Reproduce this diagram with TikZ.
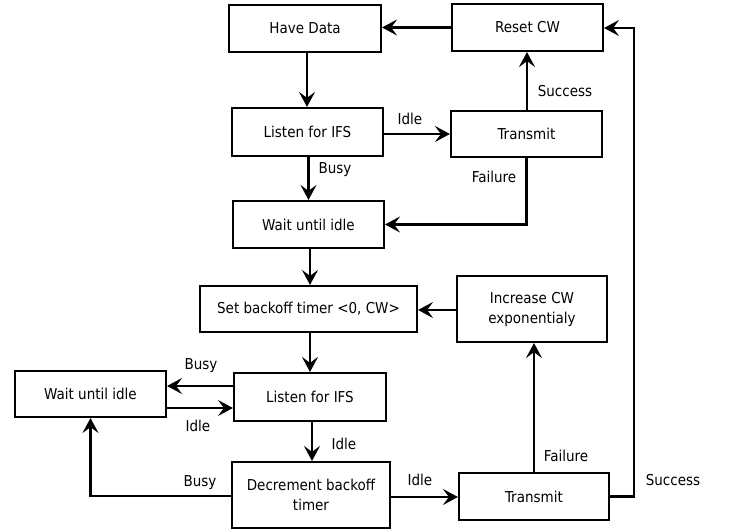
\documentclass[tikz,border=0pt]{standalone}
\usepackage{fontspec}
\setmainfont{DejaVu Sans Condensed}
\usetikzlibrary{arrows.meta}
\begin{document}
\begin{tikzpicture}[x=1pt,y=-1pt,
  box/.style={draw,line width=2.1pt,minimum height=#1,inner sep=0pt,align=center,font=\fontsize{15}{20}\selectfont},
  box/.default=47pt,
  lbl/.style={inner sep=0pt,font=\fontsize{15}{18}\selectfont},
  arr/.style={line width=2.1pt,-{Stealth[length=15pt,width=16pt,inset=6pt]}}]
\useasboundingbox[fill=white] (0,0) rectangle (732,529);
% boxes
\node[box,minimum width=152pt] (HD) at (305,28.5) {Have Data};
\node[box,minimum width=151pt] (RC) at (527.5,27.5) {Reset CW};
\node[box=48pt,minimum width=151pt] (L1) at (307.5,132) {Listen for IFS};
\node[box=46pt,minimum width=151pt] (T1) at (526.5,134) {Transmit};
\node[box,minimum width=151pt] (W1) at (308.5,224.5) {Wait until idle};
\node[box=46pt,minimum width=217pt] (SB) at (308.5,309) {Set backoff timer <0, CW>};
\node[box=66pt,minimum width=150pt] (IC) at (532,309) {Increase CW\\exponentialy};
\node[box=48pt,minimum width=152pt] (L2) at (310,397) {Listen for IFS};
\node[box=46pt,minimum width=151pt] (W2) at (90.5,394) {Wait until idle};
\node[box=66pt,minimum width=158pt] (DB) at (311,495) {Decrement backoff\\timer};
\node[box,minimum width=150pt] (T2) at (534,496.5) {Transmit};
% connectors
\draw[arr] (RC.west) -- (RC.west -| HD.east);
\draw[arr] ([xshift=2pt]HD.south) -- ([xshift=2pt]HD.south |- L1.north);
\draw[arr] ([yshift=-2pt]L1.east) -- ([yshift=-2pt]L1.east -| T1.west);
\draw[arr] ([xshift=1pt]L1.south) -- ([xshift=1pt]L1.south |- W1.north);
\draw[arr] ([xshift=0.5pt]T1.north) -- ([xshift=0.5pt]T1.north |- RC.south);
\draw[arr] (T1.south) |- (W1.east);
\draw[arr] ([xshift=1.5pt]W1.south) -- ([xshift=1.5pt]W1.south |- SB.north);
\draw[arr] ([yshift=-1pt]IC.west) -- ([yshift=-1pt]IC.west -| SB.east);
\draw[arr] ([xshift=1.5pt]SB.south) -- ([xshift=1.5pt]SB.south |- L2.north);
\draw[arr] ([yshift=11pt]L2.west) -- ([yshift=11pt]L2.west -| W2.east);
\draw[arr] ([yshift=-11pt]L2.west -| W2.east) -- ([yshift=-11pt]L2.west);
\draw[arr] ([xshift=2pt]L2.south) -- ([xshift=2pt]L2.south |- DB.north);
\draw[arr] ([yshift=-1pt]DB.west) -| (W2.south);
\draw[arr] ([yshift=-2pt]DB.east) -- ([yshift=-2pt]DB.east -| T2.west);
\draw[arr] (T2.north) -- (T2.north |- IC.south);
\coordinate (sc) at ([xshift=24pt]T2.east);
\draw[arr] (T2.east) -- (sc) |- ([yshift=-0.5pt]RC.east);
% labels
\node[lbl] (a1) at (410,119) {Idle};
\node[lbl] (a2) at (335,170) {Busy};
\node[lbl] (a3) at (565,91) {Success};
\node[lbl] (a4) at (494,177) {Failure};
\node[lbl] (a5) at (201,366) {Busy};
\node[lbl] (a6) at (198,426) {Idle};
\node[lbl] (a7) at (344,444) {Idle};
\node[lbl] (a8) at (200,483) {Busy};
\node[lbl] (a9) at (420,480) {Idle};
\node[lbl] (a10) at (566,456) {Failure};
\node[lbl] (a11) at (673,480) {Success};
\end{tikzpicture}
\end{document}
